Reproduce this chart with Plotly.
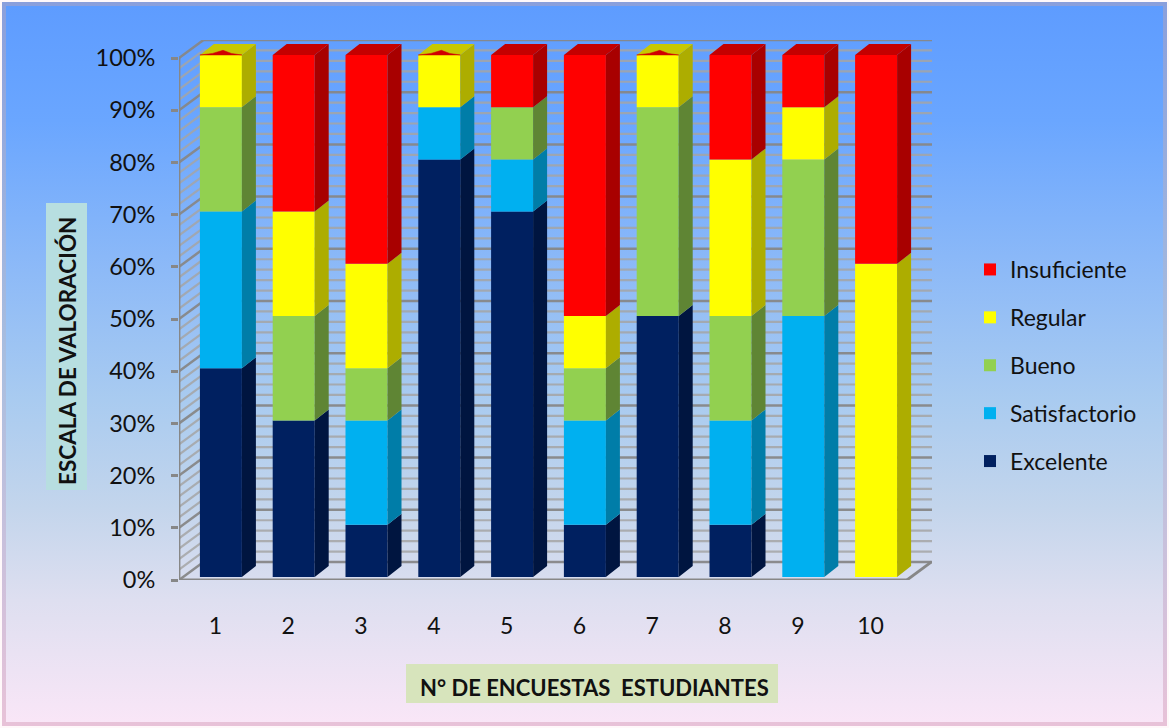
import base64
import plotly.graph_objects as go

W, H = 1169, 728
FIG_H = 741
categories = [1, 2, 3, 4, 5, 6, 7, 8, 9, 10]
excelente = [40, 30, 10, 80, 70, 10, 50, 10, 0, 0]
satisfactorio = [30, 0, 20, 10, 10, 20, 0, 20, 50, 0]
bueno = [20, 20, 10, 0, 10, 10, 40, 20, 30, 0]
regular = [10, 20, 20, 10, 0, 10, 10, 30, 10, 60]
insuficiente = [0, 30, 40, 0, 10, 50, 0, 20, 10, 40]
y_ticks = [0, 10, 20, 30, 40, 50, 60, 70, 80, 90, 100]
y_tick_labels = ["0%", "10%", "20%", "30%", "40%", "50%", "60%", "70%", "80%", "90%", "100%"]

series = [
    ("Excelente", excelente, "#002060", "#001540", "#001A50"),
    ("Satisfactorio", satisfactorio, "#00B0F0", "#007DA8", "#0090C4"),
    ("Bueno", bueno, "#92D050", "#5F8534", "#76A840"),
    ("Regular", regular, "#FFFF00", "#ADAD00", "#C8C800"),
    ("Insuficiente", insuficiente, "#FF0000", "#A80000", "#C40000"),
]

# pixel frame of the 3D chart box
PX_L, PX_R_FRONT, PX_R_BACK, PX_TOP, PX_BOTTOM = 179, 907, 932, 40, 580
PX_Y100 = 58
ux = (PX_R_FRONT - PX_L) / 10.0
uy = (PX_BOTTOM - PX_Y100) / 100.0
x_range = [0.5, 0.5 + (PX_R_BACK - PX_L) / ux]
y_range = [0, (PX_BOTTOM - PX_TOP) / uy]
wall_dx, wall_dy = 24.5 / ux, 18 / uy
bar_ox, bar_oy = 5.5 / ux, 3 / uy
bar_w = 42 / ux
bar_dx, bar_dy = 14 / ux, 11 / uy

fig = go.Figure()
cum = [0] * len(categories)
side_polys = {}

for rank, (name, vals, front, side, top) in enumerate(series):
    bases = list(cum)
    fig.add_trace(go.Bar(
        x=[c + bar_ox for c in categories], y=vals, base=[b + bar_oy for b in bases],
        width=bar_w, name=name, legendgroup=name, legendrank=1000 - rank,
        marker=dict(color=front, line=dict(width=0)), hoverinfo="skip",
    ))
    sx, sy = [], []
    for c, v, b in zip(categories, vals, bases):
        if v == 0:
            continue
        xr = c + bar_ox + bar_w / 2
        y0, y1 = b + bar_oy, b + v + bar_oy
        sx += [xr, xr + bar_dx, xr + bar_dx, xr, xr, None]
        sy += [y0, y0 + bar_dy, y1 + bar_dy, y1, y0, None]
    side_polys[name] = (sx, sy, side)
    cum = [a + b for a, b in zip(cum, vals)]

for name, vals, front, side, top in series:
    sx, sy, col = side_polys[name]
    fig.add_trace(go.Scatter(x=sx, y=sy, mode="lines", fill="toself", fillcolor=col,
                             line=dict(width=0, color=col), showlegend=False, hoverinfo="skip"))

# top faces: colour of the highest non-empty segment
for name, vals, front, side, top in series:
    tx, ty = [], []
    for i, c in enumerate(categories):
        upper = [s for s in series if s[1][i] > 0][-1]
        if upper[0] != name:
            continue
        xl, xr = c + bar_ox - bar_w / 2, c + bar_ox + bar_w / 2
        T = cum[i] + bar_oy
        tx += [xl, xl + bar_dx, xr + bar_dx, xr, xl, None]
        ty += [T, T + bar_dy, T + bar_dy, T, T, None]
    fig.add_trace(go.Scatter(x=tx, y=ty, mode="lines", fill="toself", fillcolor=top,
                             line=dict(width=0, color=top), showlegend=False, hoverinfo="skip"))

# empty "Insuficiente" segments leave a sliver of red on the top face
rx, ry = [], []
for c, v in zip(categories, insuficiente):
    if v == 0:
        xl, xr = c + bar_ox - bar_w / 2, c + bar_ox + bar_w / 2
        T = 100 + bar_oy
        xm = (xl + xr) / 2 + bar_dx * 0.15
        rx += [xl, xl + (xr - xl) * 0.3, xm, xl + (xr - xl) * 0.75, xr, xl, None]
        ry += [T, T + 0.3, T + 0.9, T + 0.3, T, T, None]
fig.add_trace(go.Scatter(x=rx, y=ry, mode="lines", fill="toself", fillcolor="#D00000",
                         line=dict(width=0.5, color="#D00000"), showlegend=False, hoverinfo="skip"))

shapes = []
GREY_MAJOR = "rgba(135,135,135,0.95)"
GREY_MINOR = "rgba(165,165,165,0.85)"
x_front_l = x_range[0]
x_front_r = 10.5
for v in range(0, 102, 2):
    major = v % 10 == 0
    col = GREY_MAJOR if major else GREY_MINOR
    lw = 2.5 if major else 2.2
    shapes.append(dict(type="line", xref="x", yref="y", layer="below",
                       x0=x_front_l + wall_dx, x1=x_range[1], y0=v + wall_dy, y1=v + wall_dy,
                       line=dict(color=col, width=lw)))
    shapes.append(dict(type="line", xref="x", yref="y", layer="below",
                       x0=x_front_l, x1=x_front_l + wall_dx, y0=v, y1=v + wall_dy,
                       line=dict(color=col, width=lw)))
for x0, y0, x1, y1 in [(x_front_l, 0, x_front_l, 100),
                       (x_front_l, 0, x_front_r, 0),
                       (x_front_r, 0, x_front_r + wall_dx, wall_dy)]:
    shapes.append(dict(type="line", xref="x", yref="y", layer="below", x0=x0, y0=y0, x1=x1, y1=y1,
                       line=dict(color="rgba(135,135,135,1)", width=2.8)))

# axis title boxes
for x0, y0, x1, y1, col in [(46, 203, 87, 490, "#B7DEE0"), (406, 664, 778, 703, "#D7E4BC")]:
    shapes.append(dict(type="rect", xref="paper", yref="paper", layer="below",
                       x0=x0 / W, x1=x1 / W, y0=1 - y1 / H, y1=1 - y0 / H,
                       fillcolor=col, line=dict(width=0)))

# page background gradient with frame
stops = [(0, "#5E9CFF"), (0.16, "#6AA6FF"), (0.35, "#8AB8F8"), (0.55, "#A9CBF0"),
         (0.70, "#C3D5EC"), (0.83, "#DEDFF0"), (1, "#F9E6F7")]
frame = [(0, "#8A9FDC"), (0.5, "#A9BEDF"), (1, "#E8C2D8")]


def grad(gid, st):
    return (f'<linearGradient id="{gid}" x1="0" y1="0" x2="0" y2="1">' +
            "".join(f'<stop offset="{o}" stop-color="{c}"/>' for o, c in st) + "</linearGradient>")


svg = (f'<svg xmlns="http://www.w3.org/2000/svg" width="{W}" height="{H}"><defs>{grad("a", stops)}{grad("b", frame)}</defs>'
       f'<rect width="{W}" height="{H}" fill="#FFF8FA"/>'
       f'<rect x="2" y="2" width="{W-4}" height="{H-4}" fill="url(#b)"/>'
       f'<rect x="6" y="6" width="{W-12}" height="{H-12}" fill="url(#a)"/></svg>')
bg = "data:image/svg+xml;base64," + base64.b64encode(svg.encode()).decode()

FONT = "Lato"
fig.update_layout(
    width=W, height=FIG_H, autosize=False,
    margin=dict(l=0, r=0, t=0, b=0, pad=0),
    paper_bgcolor="white", plot_bgcolor="rgba(0,0,0,0)",
    barmode="overlay", shapes=shapes,
    font=dict(family=FONT, size=23, color="#111111"),
    images=[dict(source=bg, xref="paper", yref="paper", x=0, y=1, sizex=1, sizey=1,
                 sizing="stretch", xanchor="left", yanchor="top", layer="below")],
    xaxis=dict(domain=[PX_L / W, PX_R_BACK / W], range=x_range, tickmode="array",
               tickvals=categories, ticktext=[str(c) for c in categories],
               showgrid=False, zeroline=False, showline=False, ticks="outside", ticklen=25,
               tickcolor="rgba(0,0,0,0)", tickfont=dict(size=23, family=FONT), fixedrange=True),
    yaxis=dict(domain=[1 - PX_BOTTOM / H, 1 - PX_TOP / H], range=y_range, tickmode="array",
               tickvals=y_ticks, ticktext=y_tick_labels, showgrid=False, zeroline=False,
               showline=False, ticks="outside", ticklen=7, tickwidth=2.5,
               tickcolor="rgb(135,135,135)", ticklabelstandoff=11,
               tickfont=dict(size=23.5, family=FONT), fixedrange=True),
    legend=dict(x=970 / W, y=1 - 248 / H, xanchor="left", yanchor="top",
                traceorder="grouped", tracegroupgap=15, bgcolor="rgba(0,0,0,0)",
                font=dict(size=23, family=FONT), itemwidth=30, itemclick=False, itemdoubleclick=False),
    annotations=[
        dict(text="<b>ESCALA DE VALORACIÓN</b>", xref="paper", yref="paper", x=67 / W, y=1 - 351 / H,
             xanchor="center", yanchor="middle",
             showarrow=False, textangle=-90, font=dict(size=22.5, family=FONT, color="#111111")),
        dict(text="<b>N° DE ENCUESTAS  ESTUDIANTES</b>", xref="paper", yref="paper", x=594 / W, y=1 - 687 / H,
             xanchor="center", yanchor="middle",
             showarrow=False, font=dict(size=22, family=FONT, color="#111111")),
    ],
)
fig.write_html("out.html", config={"displayModeBar": False},
               post_script="document.documentElement.style.overflow='hidden';document.documentElement.style.margin='0';document.body.style.margin='0';document.body.style.overflow='hidden';")
